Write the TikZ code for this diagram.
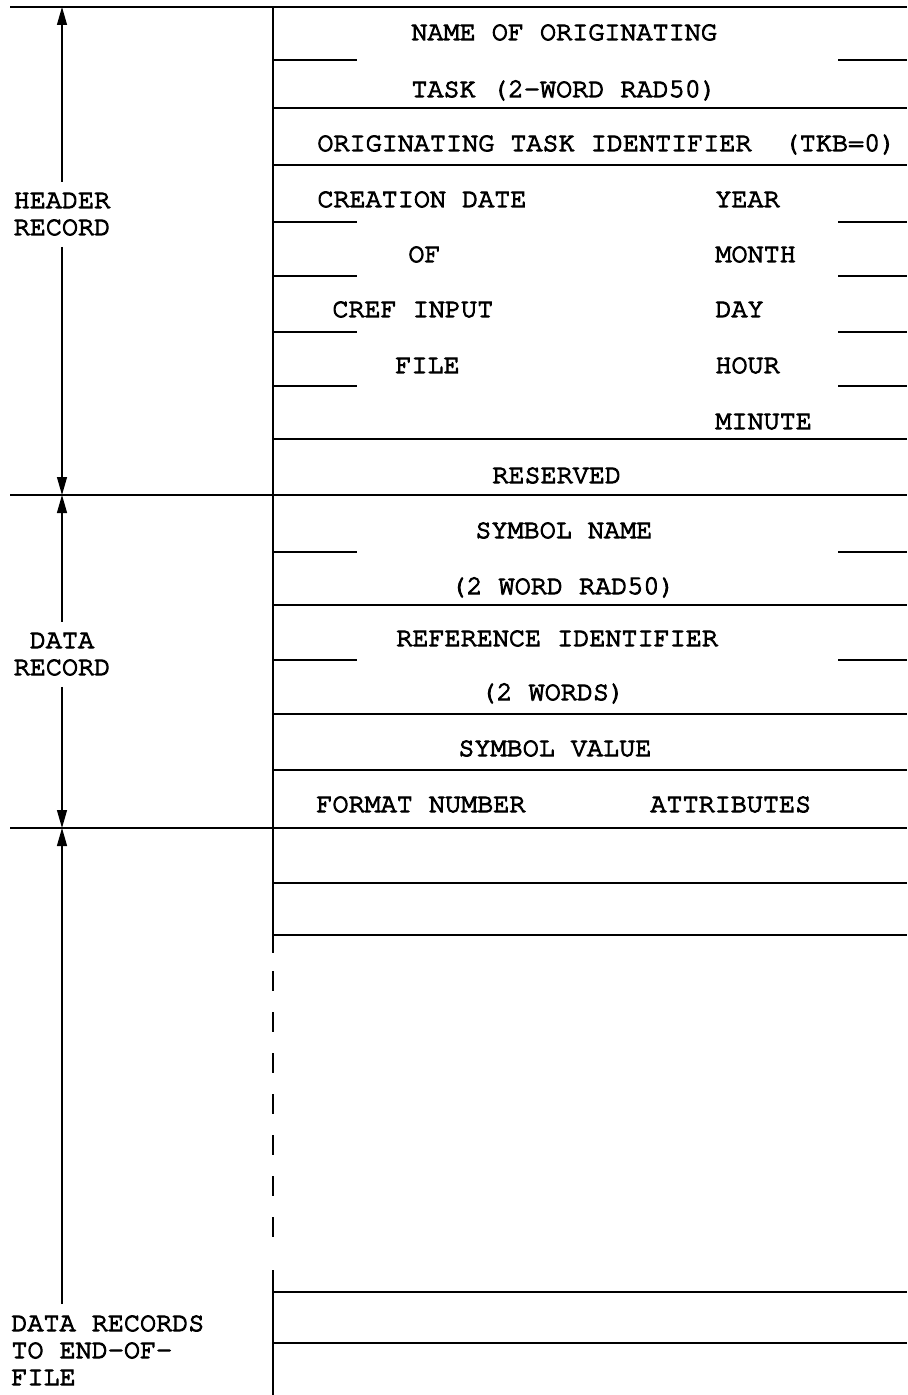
\documentclass[tikz,border=0pt]{standalone}
\usepackage{fontspec}
\newfontfamily\recfamily{texgyrecursor-regular.otf}[FakeBold=4]
\usetikzlibrary{arrows.meta, positioning}
\newcommand{\recfont}{\recfamily\fontsize{13.4}{13.5}\selectfont}
\tikzset{
  rule/.style={draw=black, line width=0.8pt},
  field/.style={anchor=base west, inner sep=0pt, font=\recfont},
  side/.style={anchor=base, align=center, inner xsep=1pt, inner ysep=5.5pt, font=\recfont},
  arr/.style={-{Triangle[length=9pt, width=5pt]}, draw=black, line width=0.6pt},
}
\begin{document}
\begin{tikzpicture}[x=0.5pt, y=-0.5pt]
  \useasboundingbox (0,0) rectangle (907,1395);

  % section boundaries and record rows
  \foreach \yy in {7, 495, 828} \draw[rule] (10,\yy) -- (907,\yy);
  \foreach \yy in {108, 165, 439, 605, 714, 770, 883, 935, 1292, 1343}
    \draw[rule] (273,\yy) -- (907,\yy);
  % word split marks
  \foreach \yy in {60, 222, 276, 332, 386, 552, 660} {
    \draw[rule] (273,\yy) -- (357,\yy);
    \draw[rule] (838,\yy) -- (907,\yy);
  }
  % left edge of the records, broken where records repeat
  \draw[rule] (273,7) -- (273,953);
  \draw[rule, dash pattern=on 10pt off 10.5pt] (273,971) -- (273,1238);
  \draw[rule] (273,1270) -- (273,1395);

  % header record
  \node[field] (tname) at (411,40) {NAME OF ORIGINATING};
  \node[field] (trad) at (411,97) {TASK (2-WORD RAD50)};
  \node[field] (tid) at (317,151) {ORIGINATING TASK IDENTIFIER\ \ (TKB=0)};
  \node[field] (cdate) at (317,207) {CREATION DATE};
  \node[field] (cof) at (408,262) {OF};
  \node[field] (cref) at (332,317) {CREF INPUT};
  \node[field] (cfile) at (395,373) {FILE};
  \node[field] (year) at (715,207) {YEAR};
  \node[field] (month) at (715,262) {MONTH};
  \node[field] (day) at (715,317) {DAY};
  \node[field] (hour) at (715,373) {HOUR};
  \node[field] (minute) at (715,429) {MINUTE};
  \node[field] (resv) at (492,483) {RESERVED};

  % data record
  \node[field] (sname) at (475,538) {SYMBOL NAME};
  \node[field] (srad) at (450,594) {(2 WORD RAD50)};
  \node[field] (refid) at (396,646) {REFERENCE IDENTIFIER};
  \node[field] (refwd) at (480,700) {(2 WORDS)};
  \node[field] (sval) at (458,756) {SYMBOL VALUE};
  \node[field] (fmt) at (316,812) {FORMAT NUMBER};
  \node[field] (attr) at (650,812) {ATTRIBUTES};

  % record spans
  \coordinate (hdrtop) at (62,7);
  \coordinate (dattop) at (62,495);
  \coordinate (eoftop) at (62,828);
  \node[side] (hdr) at (62,235) {HEADER\\RECORD};
  \node[side] (dat) at (62,675) {DATA\\RECORD};
  \node[side, anchor=base west, align=left, inner xsep=0pt] (eof) at (11,1385) {DATA RECORDS\\TO END-OF-\\FILE};
  \draw[arr] (hdr) -- (hdrtop);
  \draw[arr] (hdr) -- (dattop);
  \draw[arr] (dat) -- (dattop);
  \draw[arr] (dat) -- (eoftop);
  \draw[arr] (eof.north -| eoftop) -- (eoftop);
\end{tikzpicture}
\end{document}
